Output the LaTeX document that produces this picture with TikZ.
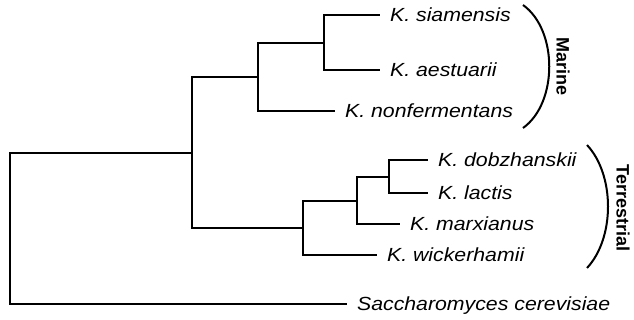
\documentclass[tikz,border=0pt]{standalone}
\usepackage{fontspec}
\setmainfont{Liberation Sans}
\newfontfamily\leaffont{Liberation Sans}[FakeStretch=1.12]

\begin{document}
\begin{tikzpicture}[x=1pt,y=-1pt,line width=2.2pt,
    leaf/.style={anchor=west,inner xsep=9pt,inner ysep=0pt,text height=13.5pt,text depth=0pt,font=\fontsize{19}{21}\leaffont\itshape},
    habitat/.style={rotate=-90,inner sep=0pt,font=\fontsize{18}{20}\selectfont\bfseries}]
  \useasboundingbox (0,0) rectangle (634,320);
  % internal nodes of the tree
  \coordinate (root) at (10,228.5);
  \coordinate (kluy) at (192,153);
  \coordinate (mar) at (258,77);
  \coordinate (sa) at (324,43);
  \coordinate (ter) at (303,228);
  \coordinate (dlm) at (357,201);
  \coordinate (dl) at (389,177);
  % tips
  \node[leaf] (sia) at (380,15) {K. siamensis};
  \node[leaf] (aes) at (380,70) {K. aestuarii};
  \node[leaf] (non) at (335,111) {K. nonfermentans};
  \node[leaf] (dob) at (428,160) {K. dobzhanskii};
  \node[leaf] (lac) at (428,193) {K. lactis};
  \node[leaf] (mrx) at (400,224) {K. marxianus};
  \node[leaf] (wic) at (377,255) {K. wickerhamii};
  \node[leaf] (sac) at (347,304) {Saccharomyces cerevisiae};
  \draw (root) |- (kluy);
  \draw (root) |- (sac.west);
  \draw (kluy) |- (mar);
  \draw (kluy) |- (ter);
  \draw (mar) |- (sa);
  \draw (mar) |- (non.west);
  \foreach \t in {sia,aes}
    \draw (sa) |- (\t.west);
  \draw (ter) |- (dlm);
  \draw (ter) |- (wic.west);
  \draw (dlm) |- (dl);
  \draw (dlm) |- (mrx.west);
  \foreach \t in {dob,lac}
    \draw (dl) |- (\t.west);
  % habitat brackets
  \draw[line width=2pt] (523,5) .. controls (558,30) and (558,103) .. (523,128);
  \node[habitat] (marine) at (563,67) {Marine};
  \draw[line width=2pt] (587,145) .. controls (615,175) and (615,238) .. (587,268);
  \node[habitat] (terr) at (623,208) {Terrestrial};
\end{tikzpicture}
\end{document}
